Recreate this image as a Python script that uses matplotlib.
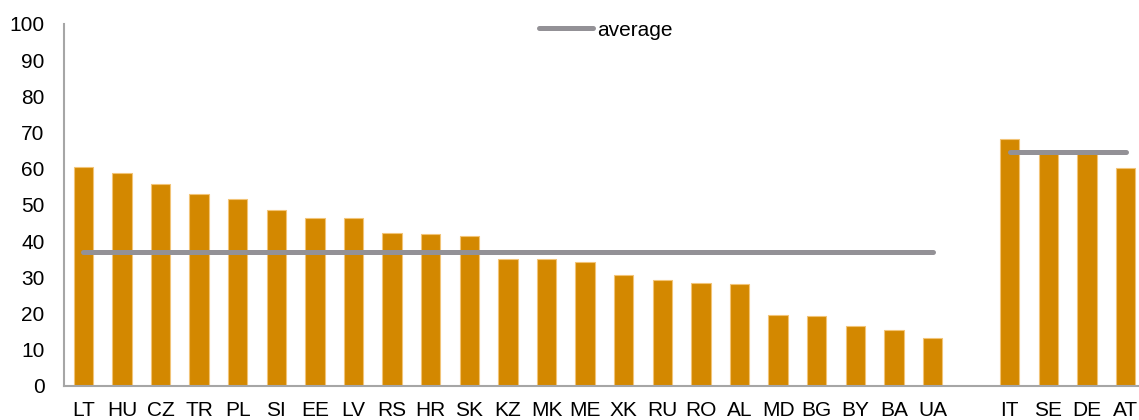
import matplotlib
matplotlib.use('Agg')
import matplotlib.pyplot as plt
import numpy as np

plt.rcParams['font.family'] = ['Liberation Sans', 'DejaVu Sans']

# CESEE countries, then a gap, then the western peers
cesee = ['LT', 'HU', 'CZ', 'TR', 'PL', 'SI', 'EE', 'LV', 'RS', 'HR', 'SK', 'KZ',
         'MK', 'ME', 'XK', 'RU', 'RO', 'AL', 'MD', 'BG', 'BY', 'BA', 'UA']
cesee_vals = [60.4, 58.7, 55.8, 53.0, 51.7, 48.6, 46.4, 46.3, 42.2, 42.0, 41.3, 35.2,
              35.1, 34.3, 30.6, 29.3, 28.4, 28.1, 19.6, 19.3, 16.6, 15.6, 13.3]
west = ['IT', 'SE', 'DE', 'AT']
west_vals = [68.2, 64.9, 64.8, 60.1]
cesee_avg = 37.0
west_avg = 64.5

bar_color = '#D38800'
edge_color = '#F2C477'
line_color = '#939196'
axis_color = '#A6A6A6'

x_cesee = np.arange(len(cesee))
x_west = np.arange(len(west)) + len(cesee) + 1

fig = plt.figure(figsize=(11.39, 4.20), dpi=100)
ax = fig.add_axes([0.0562, 0.081, 0.9489, 0.862])

ax.bar(x_cesee, cesee_vals, width=0.5, color=bar_color, edgecolor=edge_color, linewidth=0.8, zorder=2)
ax.bar(x_west, west_vals, width=0.5, color=bar_color, edgecolor=edge_color, linewidth=0.8, zorder=2)

ax.plot([x_cesee[0], x_cesee[-1]], [cesee_avg, cesee_avg], color=line_color, lw=3.6,
        solid_capstyle='round', zorder=3, label='average')
ax.plot([x_west[0], x_west[-1]], [west_avg, west_avg], color=line_color, lw=3.6,
        solid_capstyle='round', zorder=3)

ax.set_xlim(-0.5, len(cesee) + len(west) + 0.5)
ax.set_ylim(0, 100)
ax.set_yticks(np.arange(0, 101, 10))
ax.set_xticks(list(x_cesee) + list(x_west))
ax.set_xticklabels(cesee + west)

for s in ['top', 'right']:
    ax.spines[s].set_visible(False)
for s in ['left', 'bottom']:
    ax.spines[s].set_color(axis_color)
    ax.spines[s].set_linewidth(1.5)

ax.tick_params(axis='both', length=0, labelsize=15, colors='black')
ax.tick_params(axis='y', pad=14)
ax.tick_params(axis='x', pad=11)

leg = ax.legend(loc='center', bbox_to_anchor=(0.501, 0.983), frameon=False, fontsize=15,
                handlelength=2.6, handletextpad=0.2, borderpad=0, borderaxespad=0)

fig.savefig('out.png', dpi=100)
